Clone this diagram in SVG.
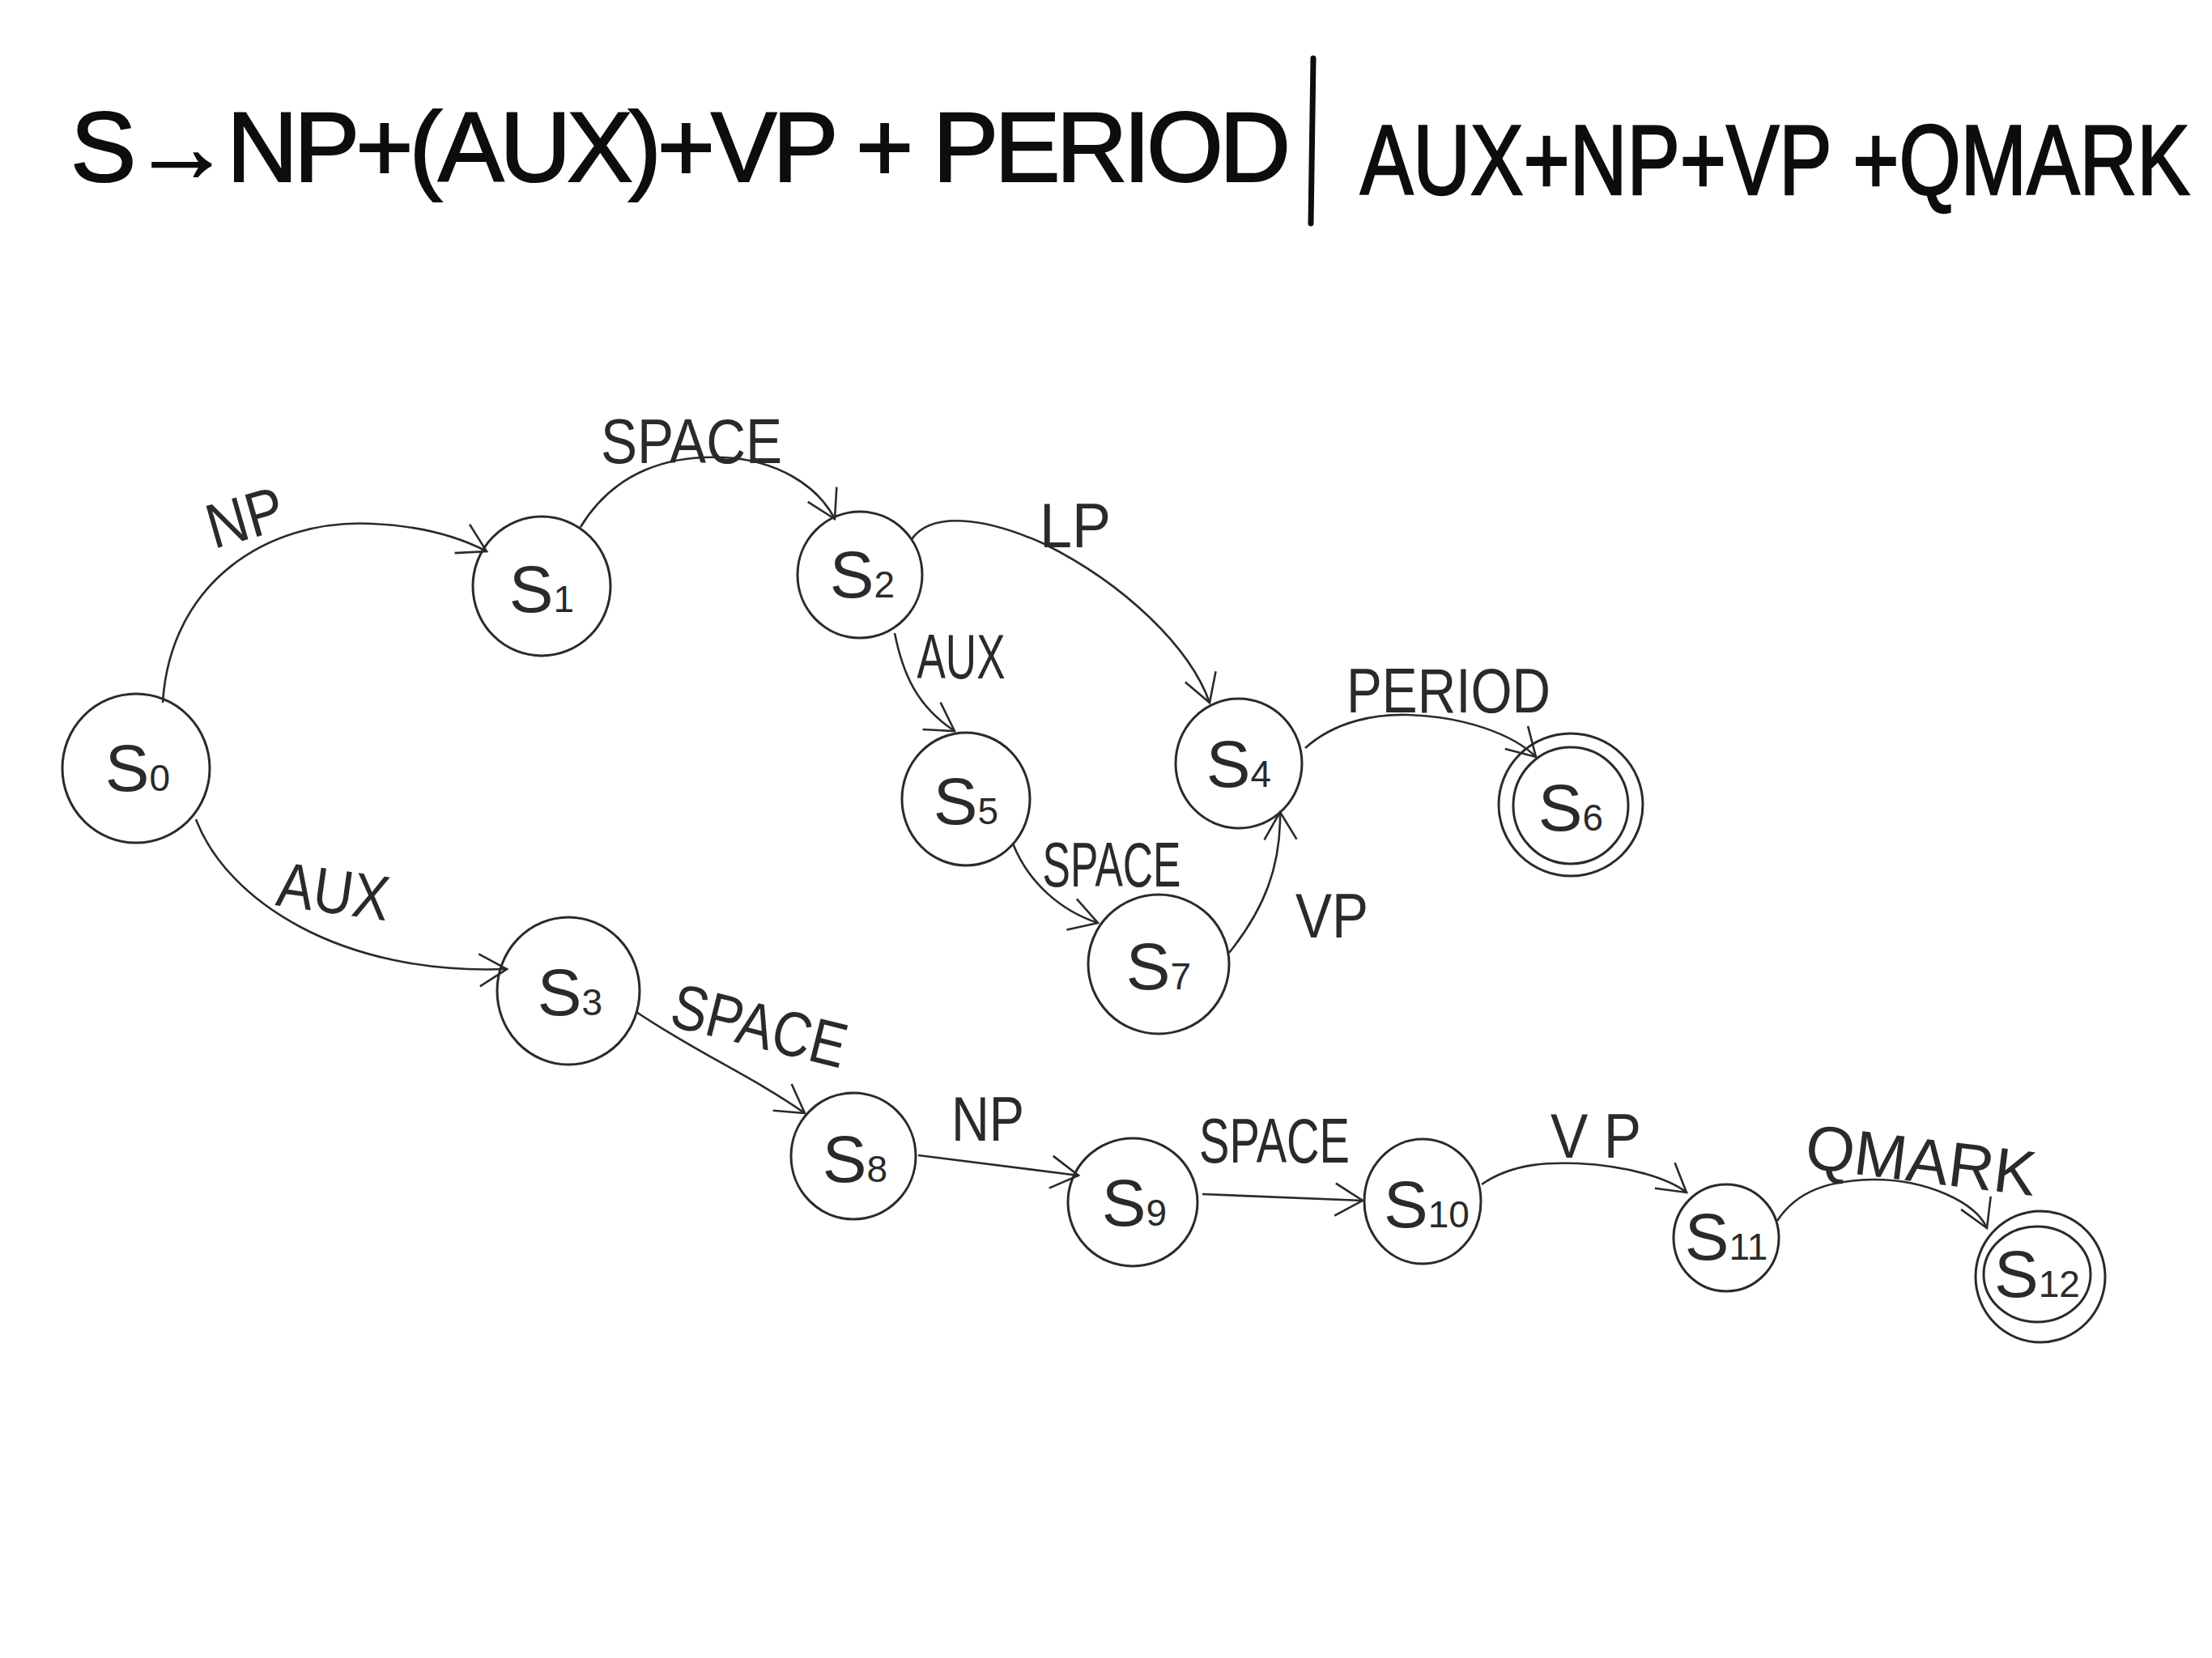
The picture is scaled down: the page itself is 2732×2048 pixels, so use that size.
<svg xmlns="http://www.w3.org/2000/svg" width="2732" height="2048" viewBox="0 0 2732 2048">
<style>
.bg{fill:#ffffff}
.node{fill:none;stroke:#2a2a2a;stroke-width:3}
.st{font-family:"Liberation Sans","DejaVu Sans",sans-serif;font-size:82px;fill:#2a2a2a;text-anchor:middle}
.sub{font-size:46px}
.lbl{font-family:"Liberation Sans","DejaVu Sans",sans-serif;font-size:78px;fill:#2a2a2a;text-anchor:middle}
.edge{fill:none;stroke:#2a2a2a;stroke-width:2.6;marker-end:url(#arr)}
.title{font-family:"Liberation Sans","DejaVu Sans",sans-serif;fill:#0d0d0d;stroke:#0d0d0d;stroke-width:2}
</style>
<defs>
<marker id="arr" markerUnits="userSpaceOnUse" markerWidth="50" markerHeight="50" refX="40" refY="22" orient="auto">
<path d="M 6 2 L 40 22 L 6 42" fill="none" stroke="#2a2a2a" stroke-width="2.6"/>
</marker>
</defs>
<rect class="bg" x="0" y="0" width="2732" height="2048"/>

<g id="title">
<text class="title" x="87" y="224" font-size="122" textLength="1507" lengthAdjust="spacing">S→NP+(AUX)+VP + PERIOD</text>
<line x1="1622" y1="72" x2="1619" y2="276" stroke="#0d0d0d" stroke-width="7" stroke-linecap="round"/>
<text class="title" transform="translate(1680 240) scale(1 1.25)" x="0" y="0" font-size="98">AUX+NP+VP +QMARK</text>
</g>

<g id="connectors">
<path id="e-s0-s1" class="edge" d="M 201 868 C 210 720, 330 640, 461 647 C 525 650, 572 666, 601 681"/>
<path id="e-s1-s2" class="edge" d="M 717 651 C 760 580, 830 562, 893 565 C 960 568, 1010 600, 1031 641"/>
<path id="e-s2-s4" class="edge" d="M 1126 666 C 1150 632, 1215 638, 1290 672 C 1390 722, 1470 800, 1494 868"/>
<path id="e-s2-s5" class="edge" d="M 1105 782 C 1115 832, 1132 872, 1179 903"/>
<path id="e-s4-s6" class="edge" d="M 1612 924 C 1650 890, 1700 882, 1739 883 C 1810 885, 1870 908, 1897 935"/>
<path id="e-s5-s7" class="edge" d="M 1251 1042 C 1270 1090, 1310 1125, 1356 1140"/>
<path id="e-s7-s4" class="edge" d="M 1518 1177 C 1562 1122, 1582 1070, 1581 1003"/>
<path id="e-s0-s3" class="edge" d="M 242 1012 C 280 1112, 420 1205, 626 1197"/>
<path id="e-s3-s8" class="edge" d="M 786 1250 C 860 1300, 930 1330, 994 1375"/>
<path id="e-s8-s9" class="edge" d="M 1134 1427 L 1332 1452"/>
<path id="e-s9-s10" class="edge" d="M 1485 1475 L 1683 1483"/>
<path id="e-s10-s11" class="edge" d="M 1830 1463 C 1870 1435, 1920 1436, 1948 1437 C 2010 1440, 2060 1455, 2083 1473"/>
<path id="e-s11-s12" class="edge" d="M 2195 1508 C 2220 1470, 2260 1458, 2314 1457 C 2380 1457, 2440 1485, 2454 1517"/>
</g>

<g id="edge-labels">
<text class="lbl" x="303" y="666" transform="rotate(-16 303 640)" textLength="96" lengthAdjust="spacingAndGlyphs">NP</text>
<text class="lbl" x="854" y="572" textLength="224" lengthAdjust="spacingAndGlyphs">SPACE</text>
<text class="lbl" x="1328" y="676" textLength="88" lengthAdjust="spacingAndGlyphs">LP</text>
<text class="lbl" x="1187" y="838" font-size="58" textLength="109" lengthAdjust="spacingAndGlyphs">AUX</text>
<text class="lbl" x="1789" y="880" textLength="252" lengthAdjust="spacingAndGlyphs">PERIOD</text>
<text class="lbl" x="1373" y="1095" font-size="70" textLength="171" lengthAdjust="spacingAndGlyphs">SPACE</text>
<text class="lbl" x="1645" y="1158" font-size="90" textLength="90" lengthAdjust="spacingAndGlyphs">VP</text>
<text class="lbl" x="412" y="1128" transform="rotate(8 412 1100)" textLength="139" lengthAdjust="spacingAndGlyphs">AUX</text>
<text class="lbl" x="938" y="1294" transform="rotate(14 938 1267)" textLength="220" lengthAdjust="spacingAndGlyphs">SPACE</text>
<text class="lbl" x="1220" y="1409" textLength="90" lengthAdjust="spacingAndGlyphs">NP</text>
<text class="lbl" x="1574" y="1436" font-size="62" textLength="186" lengthAdjust="spacingAndGlyphs">SPACE</text>
<text class="lbl" x="1971" y="1430" textLength="112" lengthAdjust="spacingAndGlyphs">V P</text>
<text class="lbl" x="2373" y="1460" transform="rotate(7 2373 1430)" textLength="286" lengthAdjust="spacingAndGlyphs">QMARK</text>
</g>

<g id="S0"><ellipse class="node" cx="168" cy="949" rx="91" ry="92"/><text class="st" x="170" y="977">S<tspan class="sub">0</tspan></text></g>
<g id="S1"><ellipse class="node" cx="669" cy="724" rx="85" ry="86"/><text class="st" x="669" y="756">S<tspan class="sub">1</tspan></text></g>
<g id="S2"><ellipse class="node" cx="1062" cy="710" rx="77" ry="78"/><text class="st" x="1065" y="738">S<tspan class="sub">2</tspan></text></g>
<g id="S3"><ellipse class="node" cx="702" cy="1224" rx="88" ry="91"/><text class="st" x="704" y="1254">S<tspan class="sub">3</tspan></text></g>
<g id="S4"><ellipse class="node" cx="1530" cy="943" rx="78" ry="80"/><text class="st" x="1530" y="972">S<tspan class="sub" font-size="60">4</tspan></text></g>
<g id="S5"><ellipse class="node" cx="1193" cy="987" rx="79" ry="82"/><text class="st" x="1193" y="1018">S<tspan class="sub">5</tspan></text></g>
<g id="S6"><ellipse class="node" cx="1940" cy="994" rx="89" ry="88"/><ellipse class="node" cx="1940" cy="995" rx="71" ry="72"/><text class="st" x="1940" y="1026">S<tspan class="sub">6</tspan></text></g>
<g id="S7"><ellipse class="node" cx="1431" cy="1191" rx="87" ry="86"/><text class="st" x="1431" y="1222">S<tspan class="sub">7</tspan></text></g>
<g id="S8"><ellipse class="node" cx="1054" cy="1428" rx="77" ry="78"/><text class="st" x="1056" y="1460">S<tspan class="sub">8</tspan></text></g>
<g id="S9"><ellipse class="node" cx="1399" cy="1485" rx="80" ry="79"/><text class="st" x="1401" y="1514">S<tspan class="sub">9</tspan></text></g>
<g id="S10"><ellipse class="node" cx="1757" cy="1484" rx="72" ry="77"/><text class="st" x="1762" y="1516">S<tspan class="sub">10</tspan></text></g>
<g id="S11"><ellipse class="node" cx="2132" cy="1529" rx="65" ry="66"/><text class="st" x="2132" y="1556" font-size="70">S<tspan class="sub" font-size="40">11</tspan></text></g>
<g id="S12"><ellipse class="node" cx="2520" cy="1577" rx="80" ry="81"/><ellipse class="node" cx="2516" cy="1574" rx="66" ry="59"/><text class="st" x="2516" y="1602" font-size="72">S<tspan class="sub" font-size="42">12</tspan></text></g>
</svg>
